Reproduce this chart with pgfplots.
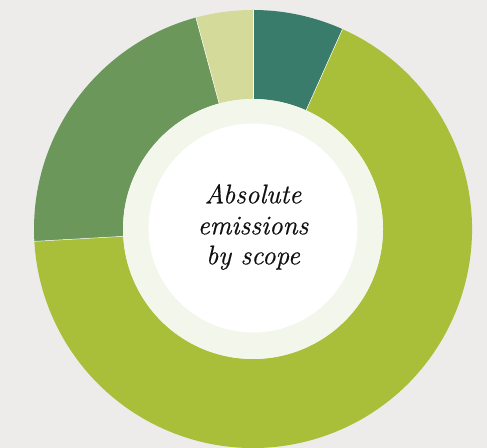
\documentclass[border=0pt]{standalone}
\usepackage{fontspec}
\usepackage{pgfplots}
\usepackage{pgfplotstable}
\pgfplotsset{compat=1.18}
\newfontfamily\lmit[ItalicFeatures={FakeBold=0.6}]{Latin Modern Roman}
\definecolor{bg}{HTML}{EDECEA}
\definecolor{cteal}{HTML}{3A7C6B}
\definecolor{cyg}{HTML}{A9BF39}
\definecolor{cmed}{HTML}{6B985A}
\definecolor{clight}{HTML}{D3DA9A}
\definecolor{cring}{HTML}{F3F6EB}
\definecolor{ctext}{HTML}{111111}
\pgfplotstableread{
scope value
1 6.7
2 67.4
3 21.7
4 4.2
}\emis
\begin{document}
\begin{tikzpicture}
\pgfplotstablegetelem{0}{value}\of\emis \let\vA\pgfplotsretval
\pgfplotstablegetelem{1}{value}\of\emis \let\vB\pgfplotsretval
\pgfplotstablegetelem{2}{value}\of\emis \let\vC\pgfplotsretval
\pgfplotstablegetelem{3}{value}\of\emis \let\vD\pgfplotsretval
\pgfmathsetmacro\tot{\vA+\vB+\vC+\vD}
\pgfmathsetmacro\k{360/\tot}
\pgfmathsetmacro\tA{90}
\pgfmathsetmacro\tB{90-\k*\vA}
\pgfmathsetmacro\tC{90-\k*(\vA+\vB)}
\pgfmathsetmacro\tD{90-\k*(\vA+\vB+\vC)}
\pgfmathsetmacro\tE{90-360}
\def\Ro{219bp}
\def\Ri{130bp}
\begin{axis}[x=1bp,y=1bp,xmin=0,xmax=487,ymin=0,ymax=448,hide axis,clip=true]
\fill[bg] (rel axis cs:0,0) rectangle (rel axis cs:1,1);
\fill[cteal] ([shift={(\tA:\Ro)}]axis cs:253,219) arc[start angle=\tA, end angle=\tB, radius=\Ro] -- ([shift={(\tB:\Ri)}]axis cs:253,219) arc[start angle=\tB, end angle=\tA, radius=\Ri] -- cycle;
\fill[cyg] ([shift={(\tB:\Ro)}]axis cs:253,219) arc[start angle=\tB, end angle=\tC, radius=\Ro] -- ([shift={(\tC:\Ri)}]axis cs:253,219) arc[start angle=\tC, end angle=\tB, radius=\Ri] -- cycle;
\fill[cmed] ([shift={(\tC:\Ro)}]axis cs:253,219) arc[start angle=\tC, end angle=\tD, radius=\Ro] -- ([shift={(\tD:\Ri)}]axis cs:253,219) arc[start angle=\tD, end angle=\tC, radius=\Ri] -- cycle;
\fill[clight] ([shift={(\tD:\Ro)}]axis cs:253,219) arc[start angle=\tD, end angle=\tE, radius=\Ro] -- ([shift={(\tE:\Ri)}]axis cs:253,219) arc[start angle=\tE, end angle=\tD, radius=\Ri] -- cycle;
\draw[white!70!cring, line width=0.5bp] ([shift={(\tA:\Ri)}]axis cs:253,219) -- ([shift={(\tA:\Ro)}]axis cs:253,219);
\draw[white!70!cring, line width=0.5bp] ([shift={(\tB:\Ri)}]axis cs:253,219) -- ([shift={(\tB:\Ro)}]axis cs:253,219);
\draw[white!70!cring, line width=0.5bp] ([shift={(\tC:\Ri)}]axis cs:253,219) -- ([shift={(\tC:\Ro)}]axis cs:253,219);
\draw[white!70!cring, line width=0.5bp] ([shift={(\tD:\Ri)}]axis cs:253,219) -- ([shift={(\tD:\Ro)}]axis cs:253,219);
\fill[cring] (axis cs:253,219) circle[radius=\Ri];
\fill[white] (axis cs:253,220) circle[radius=104.5bp];
\node[anchor=base, text=ctext, font=\lmit\itshape\fontsize{27bp}{30bp}\selectfont] at (axis cs:253,244.7) {Absolute};
\node[anchor=base, text=ctext, font=\lmit\itshape\fontsize{27bp}{30bp}\selectfont] at (axis cs:253,213.7) {emissions};
\node[anchor=base, text=ctext, font=\lmit\itshape\fontsize{27bp}{30bp}\selectfont] at (axis cs:253,183.7) {by scope};
\end{axis}
\end{tikzpicture}
\end{document}
